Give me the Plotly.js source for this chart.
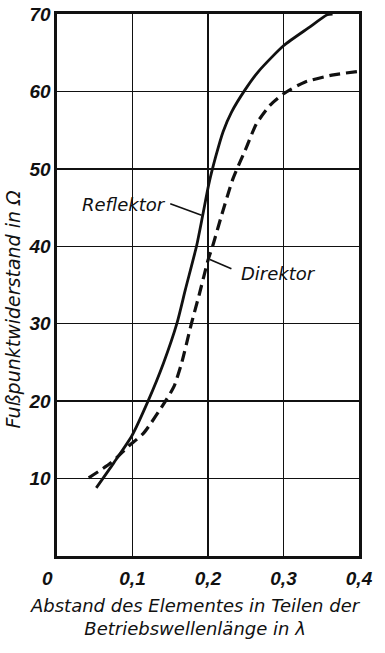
<!DOCTYPE html>
<html>
<head>
<meta charset="utf-8">
<script src="https://cdn.plot.ly/plotly-3.0.1.min.js"></script>
<style>html,body{margin:0;padding:0;background:#fff;}#chart{width:385px;height:653px;}</style>
</head>
<body>
<div id="chart"></div>
<script>
// Data
const reflektorX = [0.052, 0.075, 0.099, 0.121, 0.141, 0.159, 0.170, 0.185, 0.193, 0.201, 0.210, 0.220, 0.231, 0.249, 0.267, 0.300, 0.333, 0.358, 0.365];
const reflektorY = [8.8, 12.0, 15.5, 20.1, 24.9, 30.1, 34.4, 40.1, 44.0, 48.0, 51.5, 54.8, 57.3, 60.2, 62.6, 65.9, 68.2, 69.9, 70.0];
const direktorX = [0.042, 0.071, 0.095, 0.115, 0.143, 0.155, 0.165, 0.178, 0.189, 0.200, 0.207, 0.218, 0.233, 0.251, 0.264, 0.282, 0.300, 0.328, 0.364, 0.400];
const direktorY = [10.1, 12.0, 14.2, 15.9, 19.9, 21.9, 24.9, 30.0, 34.0, 38.2, 40.3, 44.0, 48.7, 52.8, 55.8, 58.2, 59.7, 61.2, 62.1, 62.6];
const xTickVals = [0.1, 0.2, 0.3, 0.4];
const xTickText = ['0,1', '0,2', '0,3', '0,4'];
const xOriginLabel = '0';
const yTickVals = [10, 20, 30, 40, 50, 60, 70];
const yTickText = ['10', '20', '30', '40', '50', '60', '70'];
const seriesNames = ['Reflektor', 'Direktor'];

const ink = '#111111';
const textFont = {family: 'DejaVu Sans, sans-serif', style: 'italic', size: 18, color: ink};
const tickFont = {family: 'Liberation Sans Narrow, Liberation Sans, sans-serif', style: 'italic', weight: 'bold', size: 19, color: ink};

const traces = [
  {x: reflektorX, y: reflektorY, name: seriesNames[0], type: 'scatter', mode: 'lines',
   line: {color: ink, width: 2.8, shape: 'spline', smoothing: 0.6}},
  {x: direktorX, y: direktorY, name: seriesNames[1], type: 'scatter', mode: 'lines',
   line: {color: ink, width: 3.2, dash: '11px,6px', shape: 'spline', smoothing: 0.6}}
];

const layout = {
  width: 385, height: 653,
  margin: {l: 57, r: 26, t: 14, b: 97, pad: 0},
  paper_bgcolor: '#fff', plot_bgcolor: '#fff',
  showlegend: false,
  xaxis: {
    range: [0, 0.4], tickvals: xTickVals, ticktext: xTickText,
    showgrid: true, gridcolor: ink, gridwidth: 1.5, zeroline: false,
    showline: true, linecolor: ink, linewidth: 2.6, mirror: true,
    ticks: '', ticklabelstandoff: 4, tickfont: tickFont, fixedrange: true
  },
  yaxis: {
    range: [0, 70], tickvals: yTickVals, ticktext: yTickText,
    showgrid: true, gridcolor: ink, gridwidth: 1.5, zeroline: false,
    showline: true, linecolor: ink, linewidth: 2.6, mirror: true,
    ticks: '', ticklabelstandoff: 0, tickfont: tickFont, fixedrange: true
  },
  shapes: [
    {type: 'line', xref: 'x', yref: 'y', x0: 0.150, y0: 45.5, x1: 0.1915, y1: 44.0, line: {color: ink, width: 1.6}},
    {type: 'line', xref: 'x', yref: 'y', x0: 0.231, y0: 37.1, x1: 0.2025, y1: 38.3, line: {color: ink, width: 1.6}}
  ],
  annotations: [
    {text: seriesNames[0], xref: 'x', yref: 'y', x: 0.089, y: 45.4, showarrow: false, font: textFont, xanchor: 'center', yanchor: 'middle'},
    {text: seriesNames[1], xref: 'x', yref: 'y', x: 0.293, y: 36.5, showarrow: false, font: textFont, xanchor: 'center', yanchor: 'middle'},
    {text: xOriginLabel, xref: 'paper', yref: 'paper', x: -0.031, y: 0, yshift: -22, showarrow: false, font: tickFont, xanchor: 'center', yanchor: 'middle'},
    {text: 'Fußpunktwiderstand in Ω', xref: 'paper', yref: 'paper', x: -0.145, y: 0.455, textangle: -90,
     showarrow: false, font: {family: 'DejaVu Sans, sans-serif', style: 'italic', size: 19, color: ink}, xanchor: 'center', yanchor: 'middle'},
    {text: 'Abstand des Elementes in Teilen der<br>Betriebswellenlänge in λ', xref: 'paper', yref: 'paper', x: 0.46, y: 0, yshift: -61,
     showarrow: false, font: textFont, xanchor: 'center', yanchor: 'middle', align: 'center'}
  ]
};

Plotly.newPlot('chart', traces, layout, {staticPlot: true, displayModeBar: false});
</script>
</body>
</html>
